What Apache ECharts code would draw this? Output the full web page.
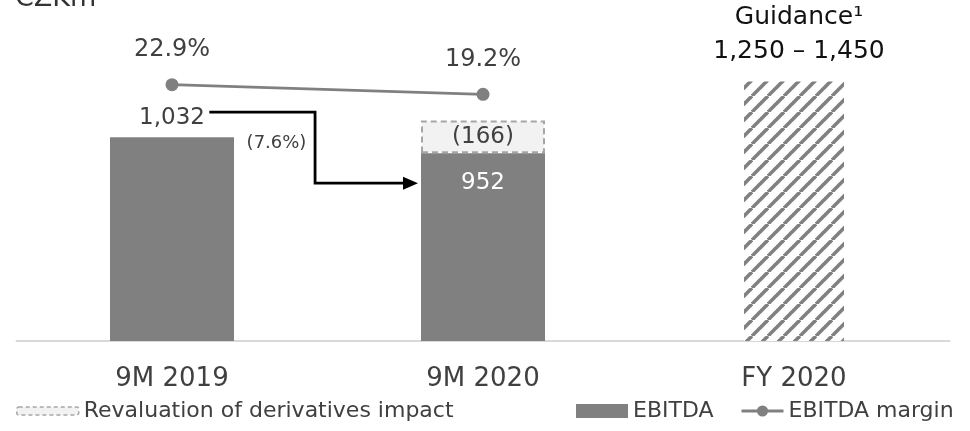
<!DOCTYPE html>
<html><head><meta charset="utf-8">
<script src="https://cdn.jsdelivr.net/npm/echarts@6/dist/echarts.min.js"></script>
<style>html,body{margin:0;padding:0;background:#fff}#c{width:970px;height:431px}</style>
</head><body><div id="c"></div>
<script>
// ---- data ----
const categories = ['9M 2019', '9M 2020', 'FY 2020'];
const ebitda = [1032, 952, null];
const revaluation = [null, 166, null];
const guidance = [null, null, 1315];
const margin = [22.9, 19.2, null];
const changeText = '(7.6%)';
const guidanceText = ['Guidance\u00B9', '1,250 \u2013 1,450'];
const unitText = 'CZKm';
const arrowLevels = [1160, 800];
const seriesNames = ['Revaluation of derivatives impact', 'EBITDA', 'EBITDA margin'];

// ---- style ----
const FONT = 'DejaVu Sans';
const GRAY = '#808080';
const TXT = '#404040';

function hatch() {
  const p = 16, c = document.createElement('canvas');
  c.width = p; c.height = p;
  const g = c.getContext('2d');
  g.fillStyle = '#fff'; g.fillRect(0, 0, p, p);
  g.strokeStyle = GRAY; g.lineWidth = 3.6;
  for (const k of [-1, 0, 1]) { g.beginPath(); g.moveTo(k * p, p); g.lineTo(k * p + p, 0); g.stroke(); }
  return c;
}
const fmt = v => v.toLocaleString('en-US');
const legendText = { fontSize: 22, color: TXT, fontFamily: FONT };

const chart = echarts.init(document.getElementById('c'), null, { renderer: 'canvas' });
const option = {
  animation: false,
  textStyle: { fontFamily: FONT },
  grid: { left: 16.5, right: 20.5, top: 45, bottom: 90 },
  xAxis: [
    { type: 'category', data: categories,
      axisLine: { lineStyle: { color: '#d9d9d9', width: 2 } },
      axisTick: { show: false },
      axisLabel: { fontSize: 26, color: TXT, margin: 25, fontFamily: FONT } },
    { type: 'category', data: categories, show: false }
  ],
  yAxis: [
    { type: 'value', min: 0, max: 1500, show: false },
    { type: 'value', min: -75.9, max: 38.2, show: false }
  ],
  legend: [
    { data: [seriesNames[0]], left: 16, top: 400, padding: 0, itemWidth: 62, itemHeight: 8, itemGap: 0,
      itemStyle: { color: '#f2f2f2', borderColor: '#a6a6a6', borderType: [4, 3], borderWidth: 1.5 },
      textStyle: legendText },
    { data: [{ name: seriesNames[1], icon: 'rect' }], left: 576, top: 400, padding: 0, itemWidth: 52, itemHeight: 14,
      textStyle: legendText },
    { data: [seriesNames[2]], left: 740, top: 400, padding: 0, itemWidth: 42, itemHeight: 14,
      lineStyle: { width: 3, color: GRAY },
      textStyle: legendText }
  ],
  series: [
    { name: seriesNames[1], type: 'bar', stack: 'e', barWidth: 124, z: 3,
      itemStyle: { color: GRAY },
      data: ebitda.map((v, i) => ({
        value: v,
        label: i === 0
          ? { show: true, position: 'top', distance: 8, fontSize: 23, lineHeight: 23, color: TXT, formatter: p => fmt(p.value) }
          : { show: true, position: 'insideTop', distance: 18, fontSize: 23, lineHeight: 23, color: '#fff', formatter: p => fmt(p.value) }
      })) },
    { name: seriesNames[0], type: 'bar', stack: 'e', barWidth: 124, z: 2,
      itemStyle: { color: '#f2f2f2', borderColor: '#a6a6a6', borderType: [6, 4], borderWidth: 2 },
      label: { show: true, position: 'inside', fontSize: 23, color: TXT, formatter: p => '(' + fmt(p.value) + ')' },
      data: revaluation },
    { name: 'Guidance', type: 'bar', xAxisIndex: 1, barWidth: 100,
      itemStyle: { color: { image: hatch(), repeat: 'repeat' } },
      label: { show: true, position: 'top', distance: 13, offset: [5, 0], color: '#111', fontSize: 25, lineHeight: 34,
        formatter: () => guidanceText.join('\n') },
      data: guidance },
    { name: seriesNames[2], type: 'line', yAxisIndex: 1, symbol: 'circle', symbolSize: 13,
      lineStyle: { color: GRAY, width: 2.8 }, itemStyle: { color: GRAY },
      label: { show: true, position: 'top', distance: 16, fontSize: 24, lineHeight: 24, color: TXT,
        formatter: p => p.value.toFixed(1) + '%' },
      data: margin }
  ]
};
chart.setOption(option);

// ---- annotations positioned through the chart's scales ----
const a0 = chart.convertToPixel({ xAxisIndex: 0, yAxisIndex: 0 }, [categories[0], arrowLevels[0]]);
const a1 = chart.convertToPixel({ xAxisIndex: 0, yAxisIndex: 0 }, [categories[1], arrowLevels[1]]);
const step = a1[0] - a0[0];
const xs = a0[0] + step * 0.12;
const xv = a0[0] + step * 0.46;
const xe = a1[0] - 62 - 3;
const tl = chart.convertToPixel({ xAxisIndex: 0, yAxisIndex: 0 }, [categories[0], 1000]);
chart.setOption({
  graphic: [
    { type: 'polyline', shape: { points: [[xs, a0[1]], [xv, a0[1]], [xv, a1[1]], [xe - 13, a1[1]]] },
      style: { stroke: '#000', lineWidth: 2.8, fill: null } },
    { type: 'polygon', shape: { points: [[xe - 15, a1[1] - 6.5], [xe, a1[1]], [xe - 15, a1[1] + 6.5]] },
      style: { fill: '#000' } },
    { type: 'text', x: a0[0] + step * 0.336, y: tl[1],
      style: { text: changeText, fontSize: 18, fill: TXT, fontFamily: FONT, align: 'center', verticalAlign: 'middle' } },
    { type: 'text', x: 15, y: -1,
      style: { text: unitText, fontSize: 27, fill: '#333', fontFamily: FONT, align: 'left', verticalAlign: 'middle' } }
  ]
});
</script>
</body></html>
